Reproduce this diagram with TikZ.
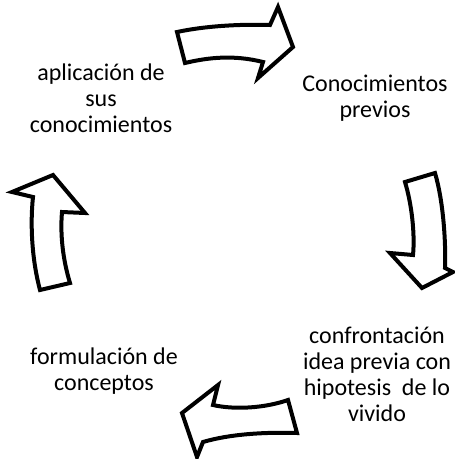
\documentclass[tikz,border=0pt]{standalone}
\usepackage{fontspec}
\setmainfont{Carlito}
\begin{document}
\begin{tikzpicture}[x=1pt,y=-1pt,
  blk/.style={draw=black,fill=white,line width=4pt,line join=miter},
  lbl/.style={align=center,font=\fontsize{24}{26}\selectfont,inner sep=0pt}]
\useasboundingbox (0,0) rectangle (455,459);
% labels
\node[lbl] (apl) at (101,98) {aplicación de\\sus\\conocimientos};
\node[lbl] (con) at (375,98) {Conocimientos\\previos};
\node[lbl] (cfr) at (377,374) {confrontación\\idea previa con\\hipotesis\ \ de lo\\vivido};
\node[lbl] (frm) at (104,371) {formulación de\\conceptos};
% top arrow
\draw[blk] (177,32) .. controls (205,26) and (240,24) .. (270,25) -- (278,7) -- (293,47) -- (258,78) -- (263,62)
  .. controls (235,55) and (210,57) .. (185,63) -- cycle;
% right arrow
\draw[blk] (405,182) -- (435,173) .. controls (443,200) and (446,240) .. (445,268) -- (453,272) -- (422,288) -- (390,253) -- (413,255)
  .. controls (415,235) and (412,205) .. (405,182) -- cycle;
% bottom arrow
\draw[blk] (288,400) -- (297,433) .. controls (265,432) and (230,434) .. (203,442) -- (197,457) -- (182,413) -- (218,385) -- (213,405)
  .. controls (235,410) and (265,408) .. (288,400) -- cycle;
% left arrow
\draw[blk] (40,290) -- (70,283) .. controls (63,260) and (60,235) .. (62,212) -- (85,213) -- (53,175) -- (12,192) -- (33,197)
  .. controls (30,225) and (32,260) .. (40,290) -- cycle;
\end{tikzpicture}
\end{document}
